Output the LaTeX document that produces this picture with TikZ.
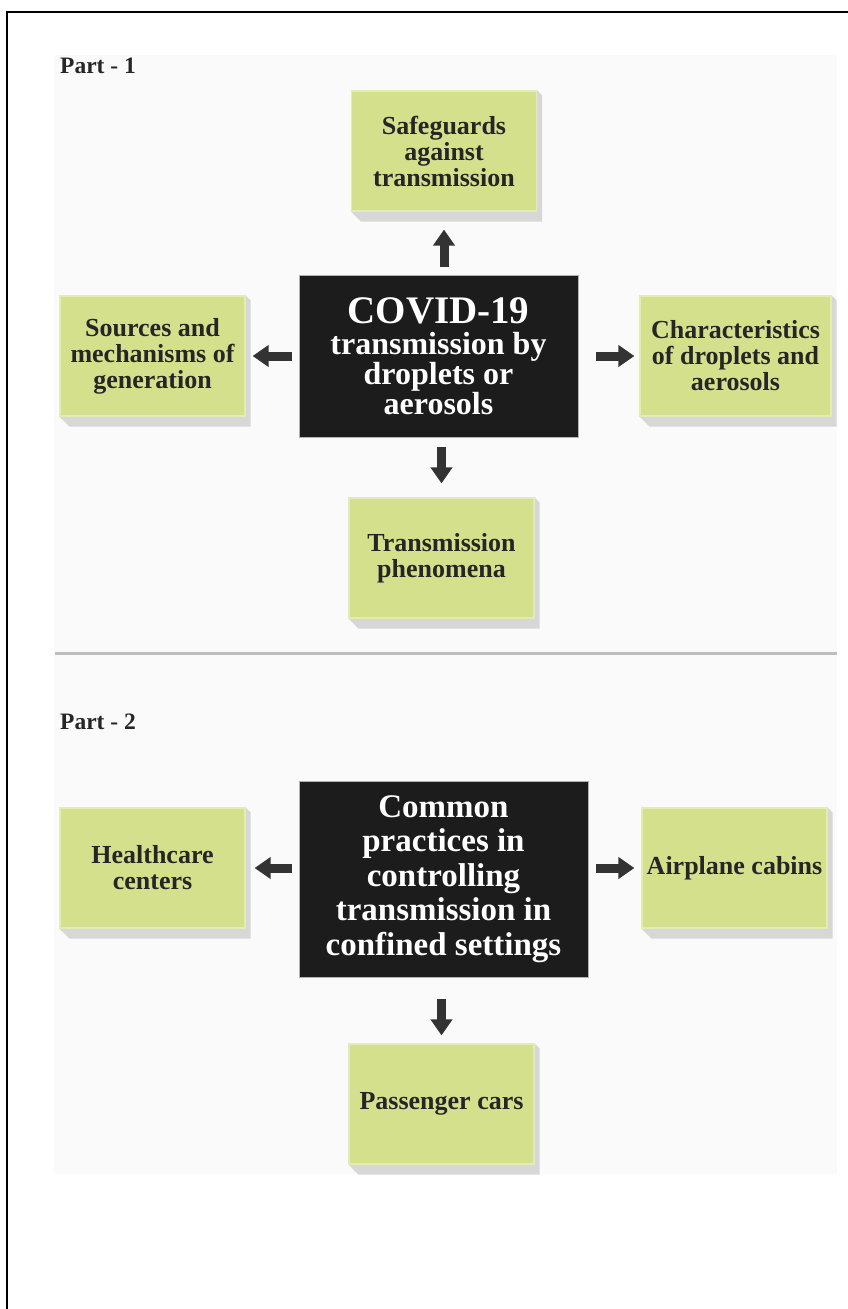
\documentclass[tikz,border=0pt]{standalone}
\usepackage{fontspec}
\setmainfont{Liberation Serif}
\usetikzlibrary{positioning,arrows.meta,backgrounds}

\definecolor{leaf}{HTML}{D5E08C}
\definecolor{leafedge}{HTML}{E4ECB6}
\definecolor{ink}{HTML}{1C1C1C}
\definecolor{textgray}{HTML}{262626}
\definecolor{arrowgray}{HTML}{333333}
\definecolor{panel}{HTML}{FAFAFA}
\definecolor{rulegray}{HTML}{BEBEBE}
\definecolor{shadegray}{HTML}{D7D7D7}

\begin{document}
\begin{tikzpicture}[x=1pt,y=-1pt,
  green node/.style={rectangle,fill=leaf,draw=leafedge,line width=1.2pt,minimum width=185pt,minimum height=120pt,inner sep=0pt,align=center,text=textgray,font=\bfseries\fontsize{26}{26}\selectfont},
  dark node/.style={rectangle,fill=ink,draw=gray!60,line width=0.8pt,inner sep=0pt,align=center,text=white},
  block arrow/.style={draw=arrowgray,line width=9pt,-{Triangle[width=21pt,length=16pt]}},
  part label/.style={anchor=base west,inner sep=0pt,text=textgray,font=\bfseries\fontsize{23.5}{23.5}\selectfont}]

            \useasboundingbox (0,0) rectangle (848,1309);
            \draw[line width=2pt] (7,1309) -- (7,11.5) -- (848,11.5);
            \begin{scope}[on background layer]
              \fill[panel] (54,55) rectangle (837,1174);
            \end{scope}
            \draw[rulegray, line width=3pt] (55,653) -- (837,653);

            \node[part label] (part1) at (60,73) {Part - 1};
            \node[part label] (part2) at (60,729) {Part - 2};

            % part 1
            \node[dark node, minimum width=279pt, minimum height=162pt, font=\bfseries\fontsize{32}{28}\selectfont] (covid) at (438.5,356)
              {{\fontsize{39}{39}\selectfont COVID-19}\\[3pt]
               transmission by\\
               droplets or\\
               aerosols};
            \node[green node] (safe) [above=63pt of covid, xshift=5.5pt] {Safeguards\\against\\transmission};
            \node[green node] (sources) [left=53pt of covid] {Sources and\\mechanisms of\\generation};
            \node[green node, minimum width=191pt] (chars) [right=61pt of covid] {Characteristics\\of droplets and\\aerosols};
            \node[green node] (phen) [below=60pt of covid, xshift=3pt] {Transmission\\phenomena};

            % part 2
            \node[dark node, minimum width=289pt, minimum height=196pt, font=\bfseries\fontsize{33}{34.5}\selectfont] (common) at (443.5,879)
              {Common\\practices in\\controlling\\transmission in\\confined settings};
            \node[green node] (health) [left=53pt of common, yshift=11pt] {Healthcare\\centers};
            \node[green node] (cabins) [right=53pt of common, yshift=11pt] {Airplane cabins};
            \node[green node] (cars) [below=66pt of common, xshift=-2pt] {Passenger cars};

            \begin{scope}[on background layer]
              \foreach \n in {safe,sources,chars,phen,health,cabins,cars}
                \fill[shadegray] (\n.south west) -- ++(10,10) -| ([xshift=5pt,yshift=-5pt]\n.north east) -- (\n.north east) -- cycle;
            \end{scope}

            \draw[block arrow, shorten <=8pt, shorten >=18pt] (covid.north -| safe.south) to (safe.south);
            \draw[block arrow, shorten <=7pt, shorten >=7pt] (covid.west) to (sources.east);
            \draw[block arrow, shorten <=18pt, shorten >=5pt] (covid.east) to (chars.west);
            \draw[block arrow, shorten <=10pt, shorten >=14pt] (covid.south -| phen.north) to (phen.north);

            \draw[block arrow, shorten <=7pt, shorten >=9pt] (common.west |- health.east) to (health.east);
            \draw[block arrow, shorten <=8pt, shorten >=7pt] (common.east |- cabins.west) to (cabins.west);
            \draw[block arrow, shorten <=22pt, shorten >=8pt] (common.south -| cars.north) to (cars.north);
        \end{tikzpicture}
\end{document}
